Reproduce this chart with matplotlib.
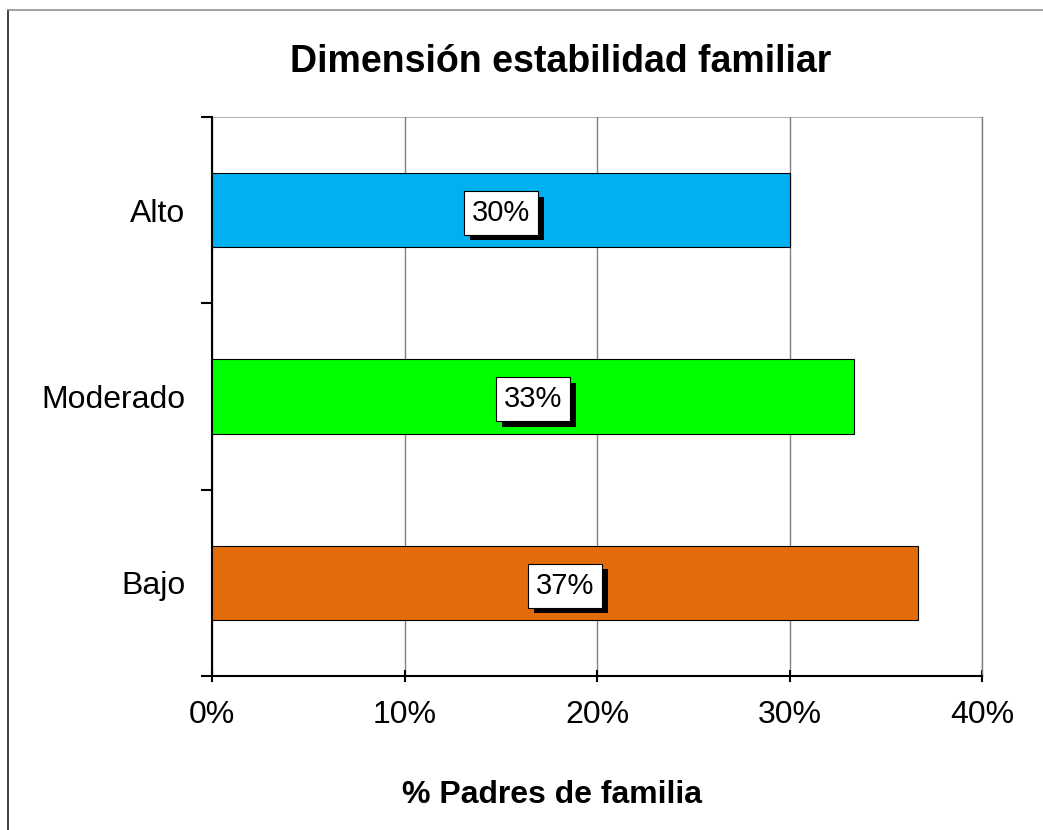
import matplotlib
matplotlib.use("Agg")
import matplotlib.pyplot as plt
import matplotlib.patheffects as pe
from matplotlib.ticker import FuncFormatter, MultipleLocator

plt.rcParams['font.family'] = ['Liberation Sans', 'DejaVu Sans']

# data
categorias = ['Bajo', 'Moderado', 'Alto']
porcentajes = [36.67, 33.33, 30.0]
etiquetas = ['37%', '33%', '30%']
colores = ['#E36C0A', '#00FF00', '#00B0F0']

fig = plt.figure(figsize=(10.43, 8.30), dpi=100)
ax = fig.add_axes([212/1043, 1-676/830, 770/1043, 559/830])

pos = list(range(len(categorias)))
ax.barh(pos, porcentajes, height=0.4, color=colores, edgecolor='black', linewidth=0.8, zorder=3)

for p, v, t in zip(pos, porcentajes, etiquetas):
    txt = ax.text(v/2, p - 0.015, t, ha='center', va='center', fontsize=21, zorder=5,
                  bbox=dict(boxstyle='square,pad=0.27', facecolor='white', edgecolor='black', linewidth=0.8))
    txt.get_bbox_patch().set_path_effects([
        pe.withSimplePatchShadow(offset=(4.5, -4), shadow_rgbFace='black', alpha=1.0)])

ax.set_xlim(0, 40)
ax.set_ylim(-0.5, 2.5)
ax.xaxis.set_major_locator(MultipleLocator(10))
ax.xaxis.set_major_formatter(FuncFormatter(lambda x, _: '%d%%' % x))
ax.set_yticks([-0.5, 0.5, 1.5, 2.5])
ax.set_yticklabels([])
ax.set_yticks(pos, minor=True)
ax.set_yticklabels(categorias, minor=True)
ax.tick_params(axis='y', which='minor', length=0, pad=19, labelsize=23)
ax.tick_params(axis='y', which='major', length=8, width=1.5, direction='out')
ax.tick_params(axis='x', length=8, width=1.5, direction='inout', pad=13, labelsize=23)

ax.grid(axis='x', color='#808080', linewidth=1, zorder=0)
ax.spines['top'].set_visible(False)
ax.spines['right'].set_color('#808080')
ax.spines['right'].set_linewidth(1)
ax.axhline(2.5, color='#a0a0a0', linewidth=1.2, zorder=1)
ax.spines['left'].set_linewidth(1.5)
ax.spines['bottom'].set_linewidth(1.5)

ax.set_xlabel('% Padres de familia', fontsize=23, fontweight='bold')
ax.xaxis.label.set_va('center')
ax.xaxis.set_label_coords((552-212)/770, -(795-676)/559)
fig.text(561/1043, 1-62/830, 'Dimensión estabilidad familiar', ha='center', va='center',
         fontsize=27, fontweight='bold')

# outer chart border
fig.add_artist(plt.Line2D([8/1043, 8/1043], [1-10/830, 0], color='#202020', linewidth=1.2))
fig.add_artist(plt.Line2D([8/1043, 1], [1-10/830, 1-10/830], color='#909090', linewidth=1.2))

fig.savefig('out.png', dpi=100)
